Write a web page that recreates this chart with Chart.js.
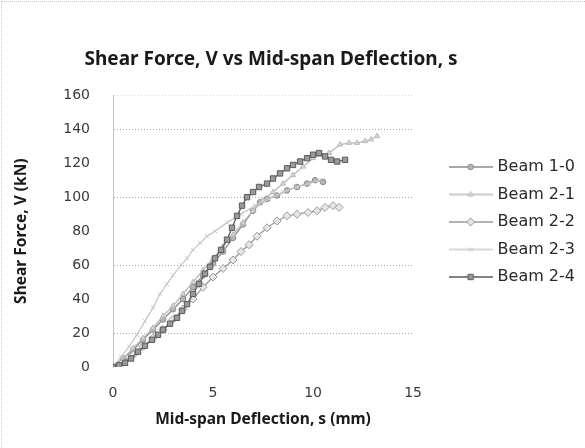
<!DOCTYPE html>
<html><head><meta charset="utf-8">
<script src="https://cdn.jsdelivr.net/npm/chart.js@4/dist/chart.umd.min.js"></script>
<style>
html,body{margin:0;padding:0;background:#fff;}
#wrap{position:relative;width:585px;height:448px;}
#frame{position:absolute;left:1px;top:1px;width:584px;height:447px;border-top:1px dotted #c4c4c4;border-left:1px dotted #c4c4c4;box-sizing:border-box;pointer-events:none}
</style></head><body>
<div id="wrap"><canvas id="c" width="585" height="448"></canvas><div id="frame"></div></div>
<script>
// ---- data ----
const seriesNames = ["Beam 1-0", "Beam 2-1", "Beam 2-2", "Beam 2-3", "Beam 2-4"];

const beam10S = [0,0.5,1,1.5,2,2.5,3,3.5,4,4.5,5,5.5,6,6.5,7,7.35,7.7,8.2,8.7,9.2,9.7,10.1,10.5];
const beam10V = [0,5,10,16,22,28,34,40,47,54,61,68,76,84,92,97,99,101,104,106,108,110,109];

const beam21S = [0,0.5,1,1.5,2,2.5,3,3.5,4,4.5,5,5.5,6,6.5,7,7.5,8,8.5,9,9.5,10,10.4,10.8,11.35,11.8,12.2,12.6,12.9,13.2];
const beam21V = [0,5,11,17,23,30,36,43,50,57,64,71,78,85,92,98,103,108,113,118,123,125,126,131,132,132,133,134,136];

const beam22S = [0,0.5,1,1.5,2,2.5,3,3.5,4,4.5,5,5.5,6,6.4,6.8,7.2,7.7,8.2,8.7,9.2,9.75,10.2,10.6,11.0,11.3];
const beam22V = [0,3,7,12,17,22,28,34,40,47,53,58,63,68,72,77,82,86,89,90,91,92,94,95,94];

const beam23S = [0,0.4,0.8,1.2,1.6,2.0,2.35,2.7,3.0,3.4,3.7,4.0,4.35,4.7,5.1,5.7,6.4,7.1,7.8,8.5,9.2,9.8,10.3];
const beam23V = [0,6,12,19,27,35,43,49,54,60,64,69,73,77,80,85,90,95,99,103,106,108,110];

const beam24S = [0,0.3,0.6,0.9,1.25,1.6,1.95,2.25,2.5,2.85,3.2,3.45,3.7,4.0,4.3,4.6,4.85,5.1,5.4,5.7,5.95,6.2,6.45,6.7,7.0,7.3,7.7,8.0,8.35,8.7,9.0,9.35,9.7,10.0,10.3,10.6,10.9,11.2,11.6];
const beam24V = [0,1,2.5,5,9,12.5,16,19,22,25.5,29,33,37,43,49,55,59,64,69,75,82,89,95,100,103,106,108,111,114,117,119,121,123,125,126,124,122,121,122];

const xTicks = [0, 5, 10, 15];
const yTicks = [0, 20, 40, 60, 80, 100, 120, 140, 160];
const shownGrid = [20, 60, 100, 140];

// ---- styles ----
const styles = [
  {line:'#8c8c8c', fill:'#b5b5b5', point:'circle',   r:2.8},
  {line:'#b9b9b9', fill:'#d6d6d6', point:'triangle', r:3},
  {line:'#9a9a9a', fill:'#e6e6e6', point:'rectRot',  r:4},
  {line:'#c8c8c8', fill:'#e2e2e2', point:'crossRot', r:3},
  {line:'#5a5a5a', fill:'#9a9a9a', point:'rect',     r:3.8}
];
const sArrays = [beam10S, beam21S, beam22S, beam23S, beam24S];
const vArrays = [beam10V, beam21V, beam22V, beam23V, beam24V];

function pairs(s, v){ return s.map((x,i)=>({x:x, y:v[i]})); }

const datasets = seriesNames.map((name,i)=>({
  label: name,
  data: pairs(sArrays[i], vArrays[i]),
  showLine: true,
  borderColor: styles[i].line,
  backgroundColor: styles[i].fill,
  borderWidth: 1.3,
  pointStyle: styles[i].point,
  pointRadius: styles[i].r,
  pointBorderColor: styles[i].line,
  pointBackgroundColor: styles[i].fill,
  pointBorderWidth: 1,
  tension: 0,
  order: seriesNames.length - i
}));

// legend icons: short line with the series marker in the middle
function makeIcon(st){
  const cv = document.createElement('canvas');
  cv.width = 44; cv.height = 14;
  const g = cv.getContext('2d');
  g.strokeStyle = st.line; g.lineWidth = 1.3;
  g.beginPath(); g.moveTo(0, 7); g.lineTo(44, 7); g.stroke();
  g.fillStyle = st.fill; g.strokeStyle = st.line; g.lineWidth = 1;
  if (Chart.helpers && Chart.helpers.drawPoint) {
    Chart.helpers.drawPoint(g, {pointStyle: st.point, radius: st.r, borderWidth: 1, rotation: 0}, 22, 7);
  }
  return cv;
}
const icons = styles.map(makeIcon);

// let the title use more width than the plot area (it is centred a little right of the plot centre)
const widenTitle = {
  id: 'widenTitle',
  afterLayout(chart){
    const t = chart.titleBlock;
    if (!t) return;
    const c = (t.left + t.right) / 2 + 8;
    t.left = c - 240; t.right = c + 240; t.width = 480;
  }
};

new Chart(document.getElementById('c'), {
  type: 'scatter',
  data: { datasets },
  plugins: [widenTitle],
  options: {
    responsive: false,
    animation: false,
    devicePixelRatio: 1,
    layout: { padding: { left: 12, right: 0, top: 10, bottom: 14 } },
    plugins: {
      title: {
        display: true,
        fullSize: false,
        text: 'Shear Force, V vs Mid-span Deflection, s',
        color: '#1a1a1a',
        font: { family: 'Noto Sans', size: 19, weight: 'bold' },
        padding: { top: 38.5, bottom: 24 }
      },
      legend: {
        position: 'right',
        align: 'center',
        maxWidth: 170,
        labels: {
          usePointStyle: true,
          pointStyleWidth: 38,
          padding: 11.5,
          color: '#2a2a2a',
          font: { family: 'DejaVu Sans', size: 16 },
          sort: (a, b) => a.datasetIndex - b.datasetIndex,
          generateLabels(chart){
            const items = Chart.defaults.plugins.legend.labels.generateLabels(chart);
            items.forEach((it) => { it.pointStyle = icons[it.datasetIndex]; });
            return items;
          }
        }
      },
      tooltip: { enabled: false }
    },
    scales: {
      x: {
        type: 'linear',
        min: 0, max: 15,
        afterBuildTicks(s){ s.ticks = xTicks.map(v=>({value:v})); },
        afterFit(s){ s.height = 67; },
        grid: { display: false, drawTicks: false },
        border: { display: false },
        ticks: { padding: 18, color: '#3a3a3a', font: { family: 'DejaVu Sans', size: 14 } },
        title: {
          display: true,
          text: 'Mid-span Deflection, s (mm)',
          color: '#1a1a1a',
          font: { family: 'Noto Sans', size: 15.5, weight: 'bold' },
          padding: { top: 8, bottom: 5 }
        }
      },
      y: {
        type: 'linear',
        min: 0, max: 160,
        afterBuildTicks(s){ s.ticks = yTicks.map(v=>({value:v})); },
        afterFit(s){ s.width = 101; },
        grid: {
          drawTicks: false,
          lineWidth: 1,
          color(ctx){
            const v = ctx.tick ? ctx.tick.value : null;
            if (shownGrid.includes(v)) return '#a8a8a8';
            if (v === 160) return '#dedede';
            return 'rgba(0,0,0,0)';
          }
        },
        border: { display: true, color: '#c4c4c4', width: 1, dash: [1, 2] },
        ticks: { padding: 23, color: '#3a3a3a', font: { family: 'DejaVu Sans', size: 14 } },
        title: {
          display: true,
          text: 'Shear Force, V (kN)',
          color: '#1a1a1a',
          font: { family: 'Noto Sans', size: 15.5, weight: 'bold' },
          padding: { top: 0, bottom: 10 }
        }
      },
      yR: {
        position: 'right',
        display: true,
        grid: { display: false, drawTicks: false },
        ticks: { display: false },
        border: { display: false },
        afterFit(s){ s.width = 27; }
      }
    }
  }
});
</script>
</body></html>
